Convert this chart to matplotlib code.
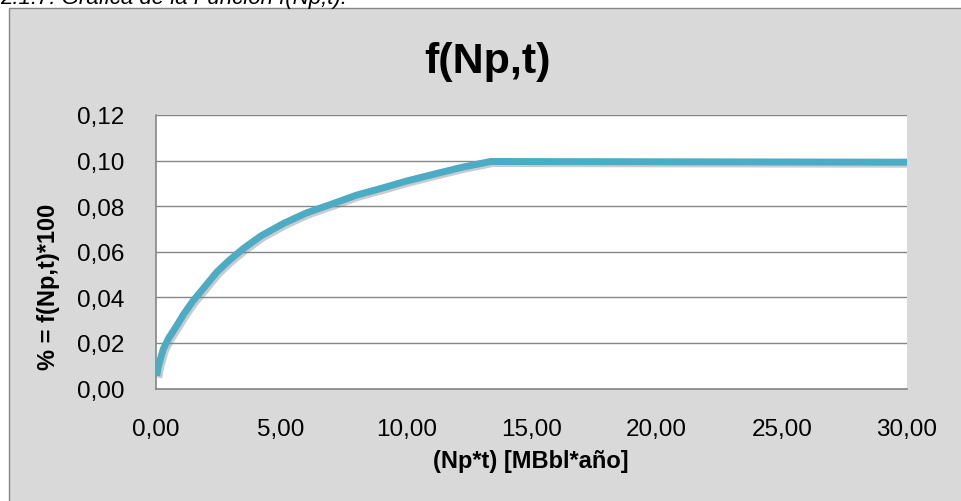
import numpy as np
import matplotlib
matplotlib.use('Agg')
import matplotlib.pyplot as plt
from matplotlib.patches import Rectangle
from matplotlib.ticker import FuncFormatter
import matplotlib.patheffects as pe

plt.rcParams['font.family'] = ['Liberation Sans', 'DejaVu Sans']

# values
npt = [0.03, 0.10, 0.29, 0.50, 0.83, 1.10, 1.49, 1.90, 2.43, 2.90, 3.49, 4.20,
       5.09, 6.00, 7.09, 8.00, 9.09, 10.00, 11.09, 12.20, 13.36, 30.00]
fnpt = [0.0056, 0.0100, 0.0173, 0.0220, 0.0276, 0.0325, 0.0386, 0.0440, 0.0511,
        0.0560, 0.0614, 0.0670, 0.0724, 0.0770, 0.0812, 0.0848, 0.0881, 0.0910,
        0.0940, 0.0970, 0.0996, 0.0993]
xticks = [0, 5, 10, 15, 20, 25, 30]
yticks = [0.00, 0.02, 0.04, 0.06, 0.08, 0.10, 0.12]

W, H = 961, 502
fig = plt.figure(figsize=(W / 100, H / 100), dpi=100)
fig.patch.set_facecolor('white')

# chart area (grey box, cut at right and bottom)
bg = Rectangle((8.5 / W, -0.2), 1.5, 1.2 - 8.5 / H, transform=fig.transFigure,
               facecolor='#d9d9d9', edgecolor='#868686', lw=1.0, zorder=0)
fig.add_artist(bg)

# caption of the page, mostly cut off at top
fig.text(0.0, 1 - 4 / H, '2.1.7. Gráfica de la Función f(Np,t).', fontsize=16,
         style='italic', ha='left', va='baseline', color='black')

ax = fig.add_axes([156 / W, (H - 389.5) / H, 751 / W, 273.5 / H])
ax.set_facecolor('white')
ax.plot(npt, fnpt, color='#4bacc6', lw=5.0, solid_capstyle='butt',
        solid_joinstyle='round', zorder=3,
        path_effects=[pe.SimpleLineShadow(offset=(1.5, -1.5), shadow_color='#7f7f7f', alpha=0.4),
                      pe.Normal()])
ax.set_xlim(0, 30)
ax.set_ylim(0, 0.12)
ax.set_xticks(xticks)
ax.set_yticks(yticks)
ax.xaxis.set_major_formatter(FuncFormatter(lambda v, p: f'{v:.2f}'.replace('.', ',')))
ax.yaxis.set_major_formatter(FuncFormatter(lambda v, p: f'{v:.2f}'.replace('.', ',')))
ax.tick_params(length=0, labelsize=17.5, colors='black')
ax.tick_params(axis='x', pad=21)
ax.tick_params(axis='y', pad=23)
ax.grid(axis='y', color='#868686', lw=1.0)
ax.set_axisbelow(True)
for s in ['top', 'right']:
    ax.spines[s].set_visible(False)
for s in ['left', 'bottom']:
    ax.spines[s].set_color('#868686')
    ax.spines[s].set_linewidth(1.2)

fig.text(488 / W, 1 - 73 / H, 'f(Np,t)', fontsize=31, fontweight='bold',
         ha='center', va='baseline')
fig.text(531 / W, 1 - 468 / H, '(Np*t) [MBbl*año]', fontsize=17, fontweight='bold',
         ha='center', va='baseline')
fig.text(49 / W, 1 - 287 / H, '% = f(Np,t)*100', fontsize=17, fontweight='bold',
         ha='center', va='center', rotation=90)

fig.savefig('out.png', dpi=100)
